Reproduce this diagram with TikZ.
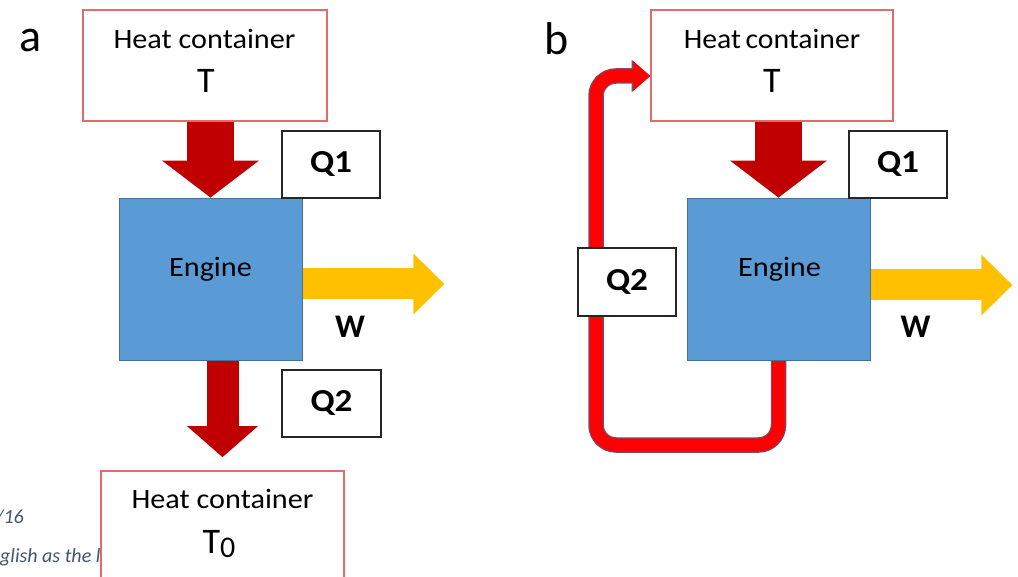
\documentclass[tikz,border=0pt]{standalone}
\usepackage{fontspec}
\setmainfont{Carlito}
\usetikzlibrary{arrows.meta,calc}
\definecolor{engfill}{HTML}{5B9BD5}
\definecolor{engline}{HTML}{41719C}
\definecolor{hcline}{HTML}{E06C6C}
\definecolor{darkred}{HTML}{C00000}
\definecolor{gold}{HTML}{FFC000}
\definecolor{loopred}{HTML}{FF0000}
\definecolor{loopline}{HTML}{7A4A6A}
\definecolor{foot}{HTML}{44546A}
\newcommand{\fsz}[1]{\fontsize{#1}{#1}\selectfont}
\pgfdeclarelayer{bgzero}
\pgfdeclarelayer{bgone}
\pgfsetlayers{bgzero,bgone,main}
\begin{document}
\begin{tikzpicture}[x=1pt,y=-1pt,
  hcbox/.style={draw=hcline, line width=1.6pt, fill=white, inner sep=0pt},
  engbox/.style={draw=engline, line width=0.8pt, fill=engfill, inner sep=0pt},
  qbox/.style={draw=black!85, line width=1.6pt, fill=white, inner sep=0pt,
    font=\fsz{32}\bfseries},
  txt/.style={inner sep=0pt, anchor=base},
  redarr/.style={draw=darkred, line width=47pt, -{Triangle[width=95pt,length=37pt]}},
  redarrB/.style={draw=darkred, line width=32pt, -{Triangle[width=69pt,length=31pt]}},
  goldarr/.style={draw=gold, line width=31pt, -{Triangle[width=59pt,length=31pt]}},
  loopout/.style={draw=loopline, line width=15.5pt, rounded corners=20pt,
    -{Triangle[width=31pt,length=18.5pt]}},
  loopin/.style={draw=loopred, line width=13pt, rounded corners=20pt,
    -{Triangle[width=28pt,length=16.5pt]}},
  foottxt/.style={inner sep=0pt, text=foot, font=\fsz{20}\itshape}
]
\useasboundingbox (0,0) rectangle (1018,577);
\clip (0,0) rectangle (1018,577);
\begin{pgfonlayer}{bgzero}
  \fill[white] (0,0) rectangle (1018,577);
\end{pgfonlayer}

% ---------- panel a ----------
\node[txt, font=\fsz{46}] (la) at (30.5,52) {a};
\node[hcbox, minimum width=244pt, minimum height=111pt] (hcA) at (205,65.5) {};
\node[txt, font=\fsz{28}] (hcAt1) at (204.5,49) {\scalebox{1.08}[1]{Heat container}};
\node[txt, font=\fsz{36}] (hcAt2) at (206,93) {T};
\node[engbox, minimum width=183pt, minimum height=162pt] (engA) at (210.5,279) {};
\node[txt, font=\fsz{28}] (engAt) at (210.5,277) {\scalebox{1.08}[1]{Engine}};
\node[qbox, minimum width=98pt, minimum height=67pt] (q1A) at (331,164.5) {\scalebox{1.1}[1]{Q1}};
\node[qbox, minimum width=99pt, minimum height=67pt] (q2A) at (331.5,403.5) {\scalebox{1.1}[1]{Q2}};
\node[txt, font=\fsz{33}\bfseries] (wA) at (350,338) {W};
\node[hcbox, minimum width=243pt, minimum height=149pt] (hcC) at (222.5,545.5) {};
\node[txt, font=\fsz{28}] (hcCt1) at (222.5,508) {\scalebox{1.08}[1]{Heat container}};
\node[txt, font=\fsz{36}] (hcCt2) at (219,553) {T{\fsz{30}\raisebox{-4pt}{0}}};

\begin{pgfonlayer}{bgone}
  \node[foottxt, anchor=base east] (f1) at (24,523) {/16};
  \node[foottxt, anchor=base west] (f2) at (0,562) {glish as the l};
  \draw[redarr] (engA.north |- hcA.south) -- (engA.north);
  \draw[redarrB] (hcC.north |- engA.south) -- ($(hcC.north)+(0,-13)$);
  \draw[goldarr] ($(engA.east)+(0,5)$) -- ++(142,0);
\end{pgfonlayer}

% ---------- panel b ----------
\node[txt, font=\fsz{46}] (lb) at (557,55) {b};
\node[hcbox, minimum width=242pt, minimum height=111pt] (hcB) at (772,65.5) {};
\node[txt, font=\fsz{28}] (hcBt1) at (772,49) {\scalebox{1.06}[1]{Heat\hspace{-2pt} container}};
\node[txt, font=\fsz{36}] (hcBt2) at (772,93) {T};
\node[engbox, minimum width=183pt, minimum height=162pt] (engB) at (778.5,279) {};
\node[txt, font=\fsz{28}] (engBt) at (779.5,277) {\scalebox{1.08}[1]{Engine}};
\node[qbox, minimum width=98pt, minimum height=67pt] (q1B) at (898,164.5) {\scalebox{1.1}[1]{Q1}};
\node[qbox, minimum width=98pt, minimum height=68pt] (q2B) at (627,282) {\scalebox{1.1}[1]{Q2}};
\node[txt, font=\fsz{33}\bfseries] (wB) at (915.5,338) {W};

\begin{pgfonlayer}{bgone}
  \draw[redarr] (engB.north |- hcB.south) -- (engB.north);
  \draw[goldarr] ($(engB.east)+(0,6)$) -- ++(142,0);
  \draw[loopout] (engB.south) -- (engB.south |- 0,445) -- (596,445) -- (596,76)
     -- ($(hcB.west)+(0,10.5)$);
  \draw[loopin] (engB.south) -- (engB.south |- 0,445) -- (596,445) -- (596,76)
     -- ($(hcB.west)+(0,10.5)$);
\end{pgfonlayer}
\end{tikzpicture}
\end{document}
